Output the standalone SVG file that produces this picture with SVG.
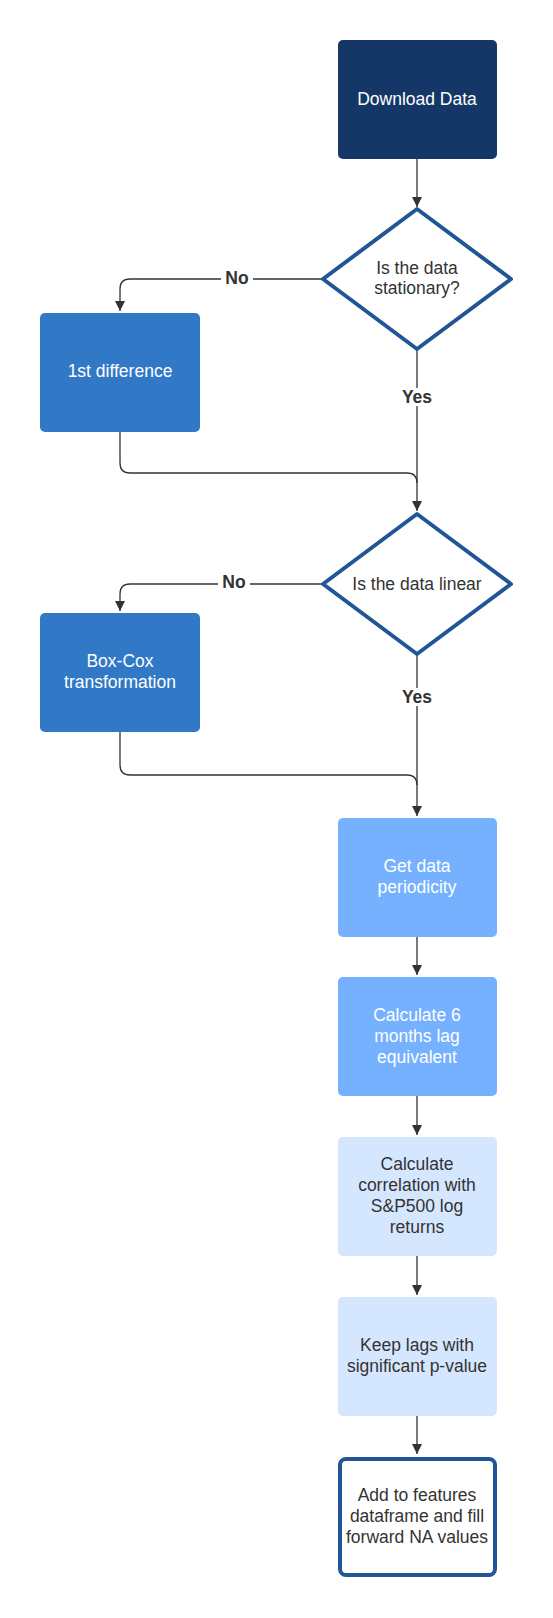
<svg xmlns="http://www.w3.org/2000/svg" width="553" height="1618" viewBox="0 0 553 1618">
<defs>
<marker id="arr" viewBox="0 0 10 10" refX="10" refY="5" markerWidth="10" markerHeight="10" markerUnits="userSpaceOnUse" orient="auto">
<path d="M0,0 L10,5 L0,10 Z" fill="#333333"/>
</marker>
<style>
text{font-family:"Liberation Sans",Arial,sans-serif;font-size:17.5px;text-anchor:middle}
.w{fill:#ffffff}
.d{fill:#333333}
.lbl{font-weight:bold;fill:#333333}
.c{fill:none;stroke:#333333;stroke-width:1.3}
.dia{fill:#ffffff;stroke:#215597;stroke-width:4;stroke-linejoin:round}
</style>
</defs>
<rect width="553" height="1618" fill="#ffffff"/>
<g id="connectors">
<path class="c" d="M417,159 V207" marker-end="url(#arr)"/>
<path class="c" d="M323,279 H130 Q120,279 120,289 V311" marker-end="url(#arr)"/>
<path class="c" d="M417,349 V511" marker-end="url(#arr)"/>
<path class="c" d="M120,432 V463 Q120,473 130,473 H407 Q417,473 417,483"/>
<path class="c" d="M323,584 H130 Q120,584 120,594 V611" marker-end="url(#arr)"/>
<path class="c" d="M417,654 V816" marker-end="url(#arr)"/>
<path class="c" d="M120,732 V765 Q120,775 130,775 H407 Q417,775 417,785"/>
<path class="c" d="M417,937 V975" marker-end="url(#arr)"/>
<path class="c" d="M417,1096 V1135" marker-end="url(#arr)"/>
<path class="c" d="M417,1256 V1295" marker-end="url(#arr)"/>
<path class="c" d="M417,1416 V1454" marker-end="url(#arr)"/>
<rect x="221" y="270" width="32" height="18" fill="#ffffff"/>
<text class="lbl" x="237" y="284">No</text>
<rect x="399" y="388" width="36" height="18" fill="#ffffff"/>
<text class="lbl" x="417" y="403">Yes</text>
<rect x="218" y="574" width="32" height="18" fill="#ffffff"/>
<text class="lbl" x="234" y="588">No</text>
<rect x="399" y="688" width="36" height="18" fill="#ffffff"/>
<text class="lbl" x="417" y="703">Yes</text>
</g>
<g id="download">
<rect x="338" y="40" width="159" height="119" rx="5" fill="#143768"/>
<text class="w" x="417" y="105">Download Data</text>
</g>
<g id="stationary">
<path class="dia" d="M417,209 L511,279 L417,349 L323,279 Z"/>
<text class="d" x="417" y="274">Is the data</text>
<text class="d" x="417" y="294">stationary?</text>
</g>
<g id="firstdiff">
<rect x="40" y="313" width="160" height="119" rx="5" fill="#3178c6"/>
<text class="w" x="120" y="377">1st difference</text>
</g>
<g id="linear">
<path class="dia" d="M417,514 L511,584 L417,654 L323,584 Z"/>
<text class="d" x="417" y="590">Is the data linear</text>
</g>
<g id="boxcox">
<rect x="40" y="613" width="160" height="119" rx="5" fill="#3178c6"/>
<text class="w" x="120" y="667">Box-Cox</text>
<text class="w" x="120" y="688">transformation</text>
</g>
<g id="periodicity">
<rect x="338" y="818" width="159" height="119" rx="5" fill="#76b1ff"/>
<text class="w" x="417" y="872">Get data</text>
<text class="w" x="417" y="893">periodicity</text>
</g>
<g id="lag">
<rect x="338" y="977" width="159" height="119" rx="5" fill="#76b1ff"/>
<text class="w" x="417" y="1021">Calculate 6</text>
<text class="w" x="417" y="1042">months lag</text>
<text class="w" x="417" y="1063">equivalent</text>
</g>
<g id="correlation">
<rect x="338" y="1137" width="159" height="119" rx="5" fill="#d5e7fe"/>
<text class="d" x="417" y="1170">Calculate</text>
<text class="d" x="417" y="1191">correlation with</text>
<text class="d" x="417" y="1212">S&amp;P500 log</text>
<text class="d" x="417" y="1233">returns</text>
</g>
<g id="keeplags">
<rect x="338" y="1297" width="159" height="119" rx="5" fill="#d5e7fe"/>
<text class="d" x="417" y="1351">Keep lags with</text>
<text class="d" x="417" y="1372">significant p-value</text>
</g>
<g id="features">
<rect x="340" y="1459" width="155" height="116" rx="6" fill="#ffffff" stroke="#215597" stroke-width="4"/>
<text class="d" x="417" y="1501">Add to features</text>
<text class="d" x="417" y="1522">dataframe and fill</text>
<text class="d" x="417" y="1543">forward NA values</text>
</g>
</svg>
